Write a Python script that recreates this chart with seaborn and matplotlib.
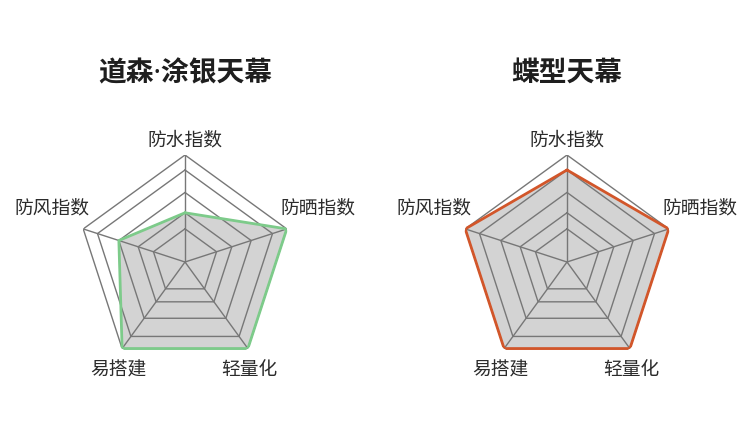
import numpy as np
import matplotlib
matplotlib.use("Agg")
import matplotlib.pyplot as plt
import seaborn as sns

sns.set_theme(style="white")
plt.rcParams["font.family"] = ["Noto Sans CJK SC", "DejaVu Sans"]

# data
axis_labels = ["防水指数", "防晒指数", "轻量化", "易搭建", "防风指数"]
ring_levels = [31, 46, 65, 86, 100]
titles = ["道森·涂银天幕", "蝶型天幕"]
left_scores = [46, 100, 100, 100, 65]
right_scores = [86, 100, 100, 100, 100]
line_colors = ["#7dcb8a", "#d2562a"]

W, H = 750, 440
R = 107
# label offsets (pixels) from each outer vertex
label_offsets = [(0, 15), (31, 21), (1, -21), (-4, -21), (-31, 21)]


def draw_radar(fig, cx, cy, scores, color, title):
    ax = fig.add_axes([(cx - R) / W, (H - cy - R) / H, 2 * R / W, 2 * R / H],
                      projection="polar")
    ax.set_theta_offset(np.pi / 2)
    ax.set_theta_direction(-1)
    ax.set_ylim(0, 100)
    ax.set_xticks([])
    ax.set_yticks([])
    ax.grid(False)
    ax.spines["polar"].set_visible(False)
    ax.patch.set_alpha(0)

    angles = np.linspace(0, 2 * np.pi, len(axis_labels), endpoint=False)
    closed = np.append(angles, angles[0])
    vals = np.append(scores, scores[0])

    ax.fill(closed, vals, color="#d3d3d3", zorder=1)
    for lvl in ring_levels:
        ax.plot(closed, [lvl] * len(closed), color="#777777", lw=1.0, zorder=2)
    for a in angles:
        ax.plot([a, a], [0, 100], color="#777777", lw=1.0, zorder=2)
    ax.plot(closed, vals, color=color, lw=2.0, zorder=3)

    for a, lab, off in zip(angles, axis_labels, label_offsets):
        ax.annotate(lab, xy=(a, 100), xytext=off, textcoords="offset pixels",
                    ha="center", va="center", fontsize=13.5, color="#2b2b2b",
                    annotation_clip=False)

    # narrow middle dot comes from Noto Sans, CJK glyphs fall back
    fig.text(cx / W, 1 - 74 / H, title, ha="center", va="center",
             fontsize=20, fontweight="bold", color="#1e1e1e",
             family=["Noto Sans", "Noto Sans CJK SC"])
    return ax


fig = plt.figure(figsize=(W / 100, H / 100), dpi=100)
fig.patch.set_facecolor("white")

draw_radar(fig, 185, 262, left_scores, line_colors[0], titles[0])
draw_radar(fig, 567, 262, right_scores, line_colors[1], titles[1])

fig.savefig("out.png", dpi=100)
